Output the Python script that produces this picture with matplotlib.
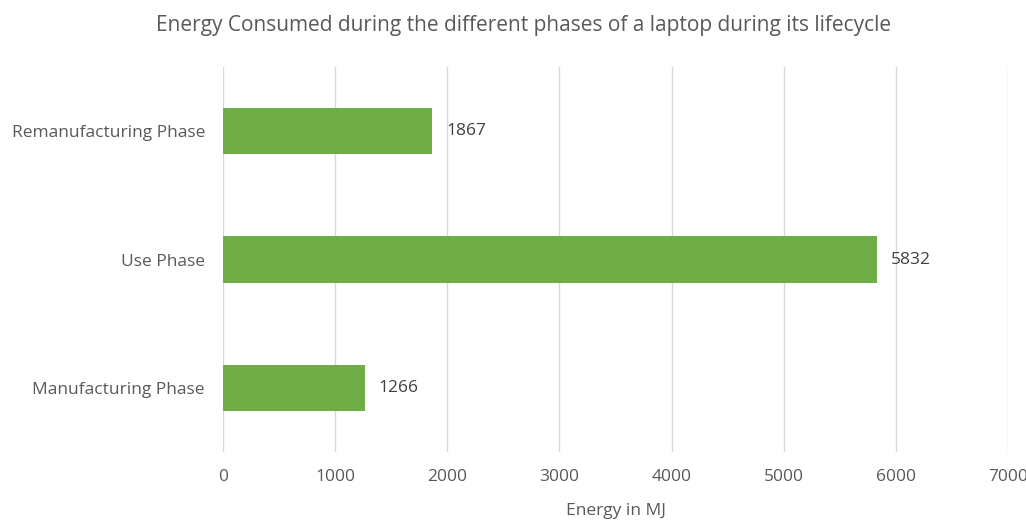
import matplotlib.pyplot as plt

phases = ["Manufacturing Phase", "Use Phase", "Remanufacturing Phase"]
energy_mj = [1266, 5832, 1867]
x_ticks = [0, 1000, 2000, 3000, 4000, 5000, 6000, 7000]

text_color = "#595959"
plt.rcParams["font.family"] = ["Open Sans", "DejaVu Sans"]

fig = plt.figure(figsize=(10.26, 5.2), dpi=100)
ax = fig.add_axes([0.2173, 0.1308, 0.7652, 0.7402])

bars = ax.barh(phases, energy_mj, height=0.36, color="#70AD47", zorder=3)
for bar, val in zip(bars, energy_mj):
    ax.annotate(f"{val}", (bar.get_width(), bar.get_y() + bar.get_height() / 2),
                xytext=(10, 0), textcoords="offset points",
                va="center", ha="left", fontsize=12.5, color="#404040")

ax.set_xlim(0, 7000)
ax.set_ylim(-0.5, 2.5)
ax.set_xticks(x_ticks)
ax.grid(axis="x", color="#D9D9D9", linewidth=1, zorder=0)
ax.grid(axis="y", visible=False)
for side in ax.spines.values():
    side.set_visible(False)
ax.tick_params(axis="both", length=0, labelsize=12.5, colors=text_color)
ax.tick_params(axis="x", pad=12)
ax.tick_params(axis="y", pad=13)

ax.set_xlabel("Energy in MJ", fontsize=12.5, color=text_color, labelpad=13)
fig.suptitle("Energy Consumed during the different phases of a laptop during its lifecycle",
             fontsize=15, color=text_color, x=0.51, y=0.972)

fig.savefig("out.png", dpi=100)
